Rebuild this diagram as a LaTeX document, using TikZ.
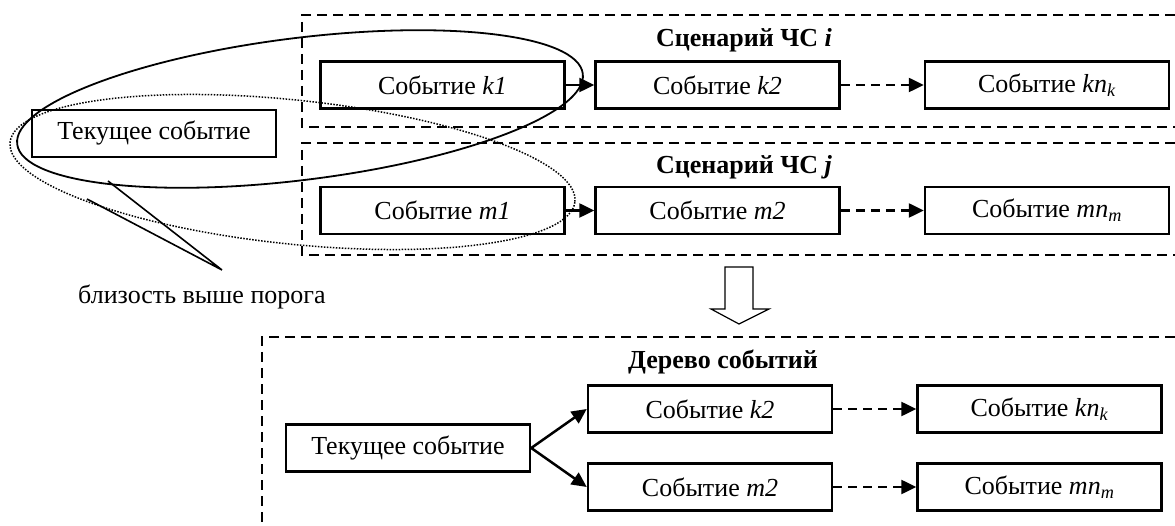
\documentclass[tikz,border=0pt]{standalone}
\usepackage{fontspec}
\setmainfont{Liberation Serif}
\usetikzlibrary{arrows.meta}
\begin{document}
\begin{tikzpicture}[x=1pt,y=-1pt,
  font=\fontsize{26}{30}\selectfont,
  ev/.style={draw, line width=2.5pt, minimum width=244pt, minimum height=47pt, inner sep=0pt},
  ttl/.style={font=\fontsize{26}{30}\selectfont\bfseries, inner sep=0pt},
  frame/.style={line width=1.9pt, dash pattern=on 10pt off 6pt},
  arr/.style={line width=2.5pt, -{Triangle[length=15pt,width=14pt]}},
  darr/.style={line width=2.5pt, dash pattern=on 9pt off 6pt, -{Triangle[length=15pt,width=14pt]}}]
\useasboundingbox (0,0) rectangle (1175,526);

% scenario frames
\draw[frame] (1175,15) -- (302,15) -- (302,127) -- (1175,127);
\draw[frame] (1175,143) -- (302,143) -- (302,255) -- (1175,255);
\draw[frame] (1175,337) -- (262,337) -- (262,526);

% titles
\node[ttl] (ti) at (744,40) {Сценарий ЧС \textit{i}};
\node[ttl] (tj) at (744,167) {Сценарий ЧС \textit{j}};
\node[ttl] (tt) at (723,362) {Дерево событий};

% top events
\node[ev] (cur) at (154,133.5) {Текущее событие};
\node[ev] (k1) at (442.5,85) {Событие \textit{k1}};
\node[ev] (k2) at (717.5,85) {Событие \textit{k2}};
\node[ev] (kn) at (1047,85) {Событие \textit{kn}\textsubscript{\textit{k}}};
\node[ev] (m1) at (442.5,210.5) {Событие \textit{m1}};
\node[ev] (m2) at (717.5,210.5) {Событие \textit{m2}};
\node[ev] (mn) at (1047,210.5) {Событие \textit{mn}\textsubscript{\textit{m}}};

\draw[arr] (k1) -- (k2);
\draw[darr] (k2) -- (kn);
\draw[arr] (m1) -- (m2);
\draw[darr] (m2) -- (mn);

% ellipses
\draw[line width=1.8pt, rotate around={7.1:(300,109)}] (300,109) ellipse [x radius=285pt, y radius=71pt];
\draw[line width=1.5pt, dash pattern=on 1.5pt off 1.5pt, rotate around={-6:(292.5,172)}] (292.5,172) ellipse [x radius=284pt, y radius=72pt];

% callout
\coordinate (tip) at (222,270);
\coordinate (ca) at (108,181);
\coordinate (cb) at (87,199);
\draw[line width=1.6pt] (ca) -- (tip) -- (cb);
\node[anchor=west, inner sep=0pt] (lbl) at (78,297) {близость выше порога};

% big arrow
\draw[line width=1.2pt, fill=white] (725,267) -- (753,267) -- (753,309) -- (769,309) -- (739,324) -- (711,309) -- (725,309) -- cycle;

% tree
\node[ev] (cur2) at (408,448) {Текущее событие};
\node[ev] (bk2) at (710,409) {Событие \textit{k2}};
\node[ev] (bm2) at (710,487) {Событие \textit{m2}};
\node[ev] (bkn) at (1039.5,409) {Событие \textit{kn}\textsubscript{\textit{k}}};
\node[ev] (bmn) at (1039.5,487) {Событие \textit{mn}\textsubscript{\textit{m}}};

\draw[arr] (cur2.east) -- (bk2.west);
\draw[arr] (cur2.east) -- (bm2.west);
\draw[darr] (bk2) -- (bkn);
\draw[darr] (bm2) -- (bmn);
\end{tikzpicture}
\end{document}
